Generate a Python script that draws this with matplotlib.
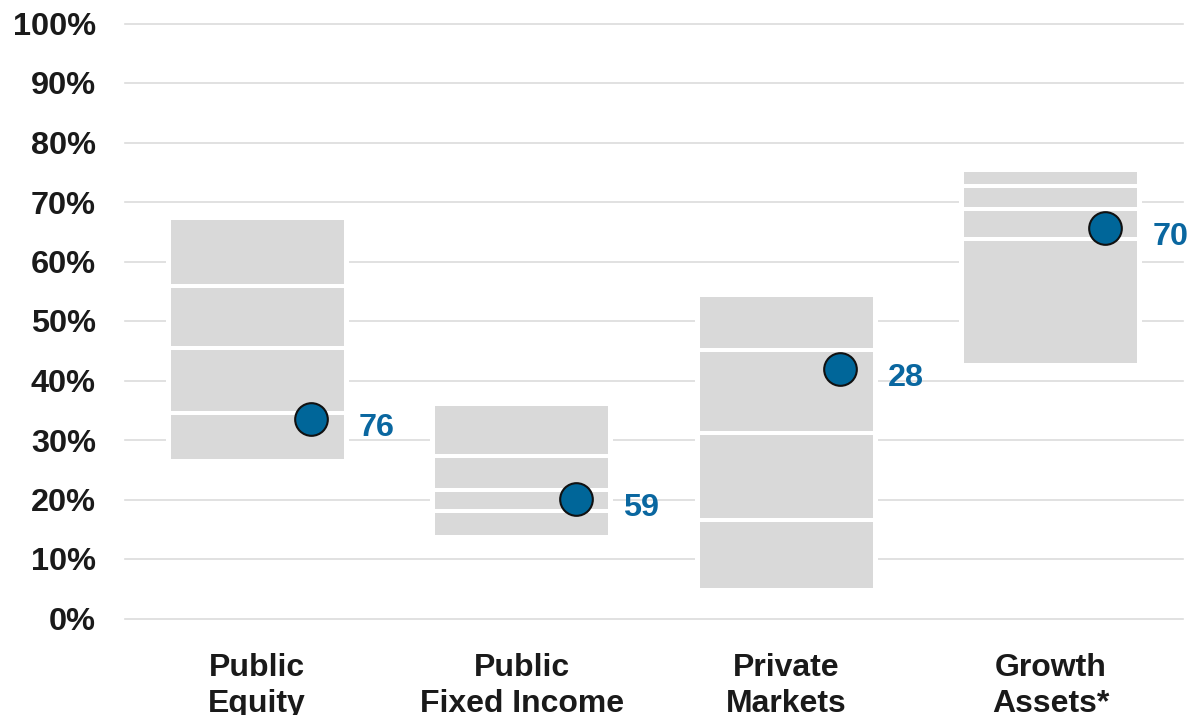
import matplotlib
matplotlib.use("Agg")
import matplotlib.pyplot as plt
import numpy as np

plt.rcParams['font.family'] = ['Liberation Sans', 'DejaVu Sans']

categories = ['Public\nEquity', 'Public\nFixed Income', 'Private\nMarkets', 'Growth\nAssets*']
p5 = [26.8, 14.0, 5.2, 43.0]
p25 = [34.5, 18.0, 16.5, 63.8]
p50 = [45.5, 21.6, 31.1, 68.9]
p75 = [55.8, 27.3, 45.1, 72.7]
p95 = [67.0, 35.7, 54.0, 75.1]
values = [33.5, 20.1, 41.9, 65.6]
ranks = [76, 59, 28, 70]
yticks = [0, 10, 20, 30, 40, 50, 60, 70, 80, 90, 100]

BOX_GRAY = '#d9d9d9'
GRID = '#dcdcdc'
BLUE = '#006699'
LABEL_BLUE = '#0a67a0'
TEXT = '#1a1a1a'

W, H = 1201, 715
fig = plt.figure(figsize=(W / 100, H / 100), dpi=100)
ax = fig.add_axes([125 / W, (H - 618.5) / H, (1183 - 125) / W, 595 / H])

x = np.arange(len(categories))
bw = 0.654
gap = 0.036

ax.set_xlim(-0.5, len(categories) - 0.5)
ax.set_ylim(0, 100)

# gridlines
for t in yticks:
    ax.axhline(t, color=GRID, lw=1.2, zorder=0, clip_on=False)

lo = np.array(p5)
hi = np.array(p95)
# white halo breaking the gridlines
ax.bar(x, hi - lo, bottom=lo, width=bw + gap, color='white', linewidth=0, zorder=1)
ax.bar(x, hi - lo, bottom=lo, width=bw, color=BOX_GRAY, linewidth=0, zorder=2)
for q in (p25, p50, p75):
    ax.hlines(q, x - bw / 2, x + bw / 2, colors='white', lw=2.9, zorder=3)

dot_off = 0.205
ax.plot(x + dot_off, values, 'o', ms=23.5, mfc=BLUE, mec='#111111', mew=1.5, zorder=4, linestyle='none')
for xi, v, r in zip(x, values, ranks):
    ax.annotate(str(r), xy=(xi + dot_off, v), xytext=(34, -12.2), textcoords='offset points',
                ha='left', va='baseline', fontsize=23.3, fontweight='bold', color=LABEL_BLUE,
                annotation_clip=False)

ax.set_yticks(yticks)
ax.set_yticklabels([f'{t}%' for t in yticks], fontsize=23.4, fontweight='bold', color=TEXT)
ax.set_xticks(x)
ax.set_xticklabels(categories, fontsize=23, fontweight='bold', color=TEXT, linespacing=1.27)
ax.tick_params(axis='y', length=0, pad=21)
ax.tick_params(axis='x', length=0, pad=24.5)
for s in ax.spines.values():
    s.set_visible(False)
ax.grid(False)

fig.savefig('out.png', dpi=100)
